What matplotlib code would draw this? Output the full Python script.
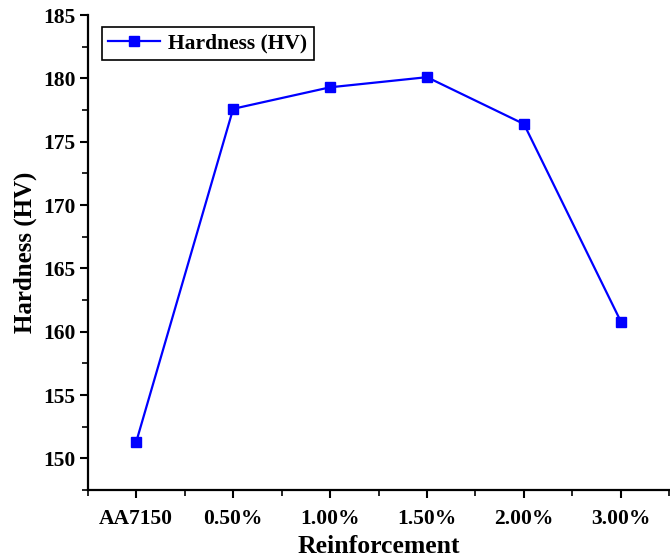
import numpy as np
import matplotlib.pyplot as plt
from matplotlib.ticker import MultipleLocator

categories = ['AA7150', '0.50%', '1.00%', '1.50%', '2.00%', '3.00%']
hardness = [151.3, 177.6, 179.3, 180.1, 176.4, 160.8]

plt.rcParams['font.family'] = 'Liberation Serif'
plt.rcParams['font.weight'] = 'bold'

fig = plt.figure(figsize=(6.7, 5.6), dpi=100)
ax = fig.add_axes([0.131, 0.125, 0.868, 0.848])

x = np.arange(len(categories))
ax.plot(x, hardness, color='#0000ff', lw=1.6, marker='s', ms=7.5,
        label='Hardness (HV)')

ax.set_xlim(-0.5, 5.5)
ax.set_ylim(147.5, 185)
ax.set_xticks(x)
ax.set_xticklabels(categories)
ax.xaxis.set_minor_locator(MultipleLocator(0.5))
ax.yaxis.set_major_locator(MultipleLocator(5))
ax.yaxis.set_minor_locator(MultipleLocator(2.5))

for s in ['top', 'right']:
    ax.spines[s].set_visible(False)
for s in ['left', 'bottom']:
    ax.spines[s].set_linewidth(1.6)

ax.tick_params(which='major', direction='out', length=6, width=1.5,
               labelsize=15.5, pad=3)
ax.tick_params(which='minor', direction='out', length=4, width=1.2)
ax.tick_params(axis='x', pad=8)
for lab in ax.get_xticklabels() + ax.get_yticklabels():
    lab.set_fontweight('bold')

ax.set_xlabel('Reinforcement', fontsize=18.5, fontweight='bold', labelpad=4)
ax.set_ylabel('Hardness (HV)', fontsize=18, fontweight='bold', labelpad=4)

leg = ax.legend(loc='upper left', bbox_to_anchor=(0.024, 0.975), fancybox=False,
                edgecolor='black', fontsize=15.5, handlelength=2.4,
                handletextpad=0.4, borderpad=0.3, borderaxespad=0,
                framealpha=1)
leg.get_frame().set_linewidth(1.2)

fig.savefig('out.png', dpi=100)
